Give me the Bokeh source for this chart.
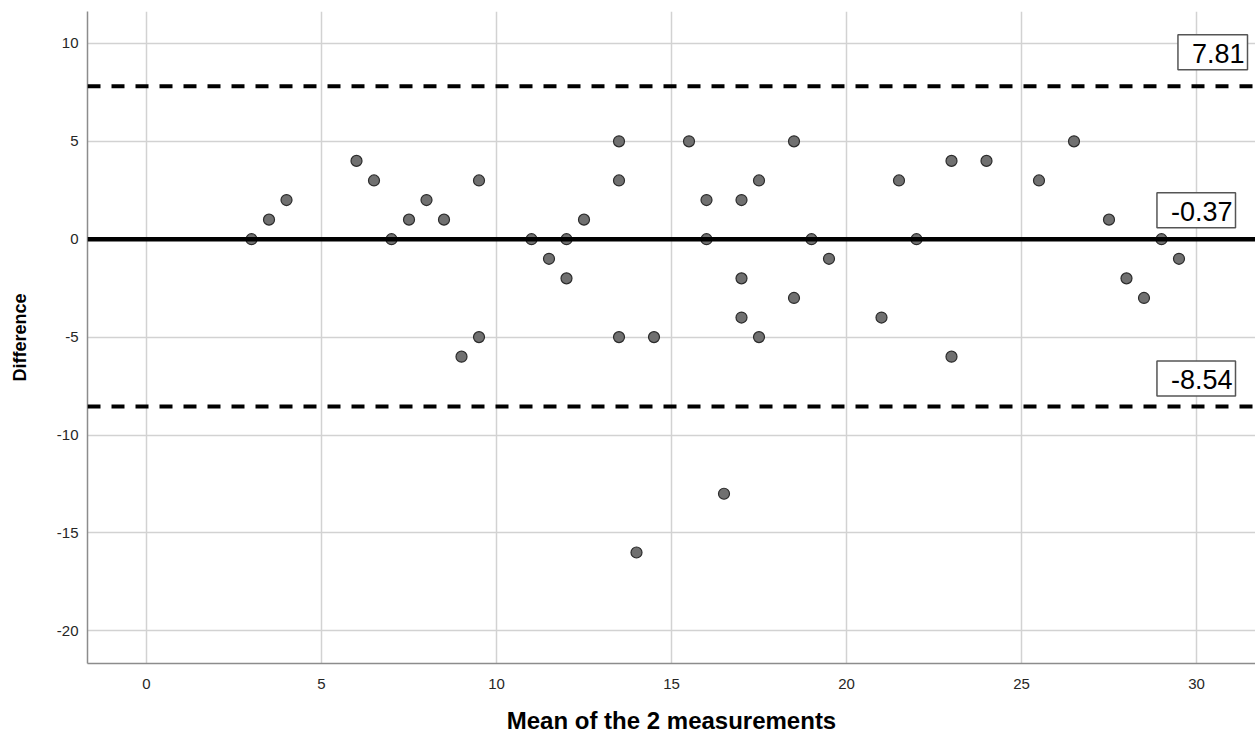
from bokeh.plotting import figure
from bokeh.models import Span, Label, FixedTicker, ColumnDataSource, Range1d
from bokeh.embed import file_html
from bokeh.resources import INLINE

# ---- data ----
mean_x = [3, 3.5, 4, 6, 6.5, 7, 7.5, 8, 8.5, 9, 9.5, 9.5, 11, 11.5, 12, 12,
          12.5, 13.5, 13.5, 13.5, 14, 14.5, 15.5, 16, 16, 16.5, 17, 17, 17,
          17.5, 17.5, 18.5, 18.5, 19, 19.5, 21, 21.5, 22, 23, 23, 24, 25.5,
          26.5, 27.5, 28, 28.5, 29, 29.5]
diff_y = [0, 1, 2, 4, 3, 0, 1, 2, 1, -6, 3, -5, 0, -1, 0, -2,
          1, 5, 3, -5, -16, -5, 5, 2, 0, -13, 2, -2, -4,
          3, -5, 5, -3, 0, -1, -4, 3, 0, 4, -6, 4, 3,
          5, 1, -2, -3, 0, -1]

upper_loa = 7.81
mean_diff = -0.37
lower_loa = -8.54
zero_ref = 0

x_ticks = [0, 5, 10, 15, 20, 25, 30]
y_ticks = [-20, -15, -10, -5, 0, 5, 10]
x_title = "Mean of the 2 measurements"
y_title = "Difference"

FONT = "Liberation Sans"

p = figure(width=1255, height=740, output_backend="svg", toolbar_location=None,
           x_range=Range1d(-1.686, 31.686), y_range=Range1d(-21.67, 11.63),
           min_border_left=87, min_border_right=0, min_border_top=11,
           min_border_bottom=77)
p.outline_line_color = None
p.background_fill_color = "white"
p.border_fill_color = "white"

for ax in (p.xaxis, p.yaxis):
    ax.major_tick_line_color = None
    ax.minor_tick_line_color = None
    ax.major_tick_out = 0
    ax.major_tick_in = 0
    ax.minor_tick_out = 0
    ax.minor_tick_in = 0
    ax.axis_line_color = "#8c8c8c"
    ax.axis_line_width = 1.5
    ax.major_label_text_font = FONT
    ax.major_label_text_font_size = "15px"
    ax.major_label_text_color = "#262626"
    ax.axis_label_text_font = FONT
    ax.axis_label_text_font_style = "bold"
    ax.axis_label_text_color = "#000000"

p.xaxis.ticker = FixedTicker(ticks=x_ticks)
p.yaxis.ticker = FixedTicker(ticks=y_ticks)
p.xaxis.major_label_overrides = {t: str(t) for t in x_ticks}
p.yaxis.major_label_overrides = {t: str(t) for t in y_ticks}
p.xaxis.axis_label = x_title
p.yaxis.axis_label = y_title
p.xaxis.axis_label_text_font_size = "24px"
p.yaxis.axis_label_text_font_size = "18px"
p.xaxis.major_label_standoff = 15
p.yaxis.major_label_standoff = 9
p.xaxis.axis_label_standoff = 15
p.yaxis.axis_label_standoff = 24

p.xgrid.ticker = FixedTicker(ticks=x_ticks)
p.ygrid.ticker = FixedTicker(ticks=y_ticks)
for g in (p.xgrid, p.ygrid):
    g.grid_line_color = "#d2d2d2"
    g.grid_line_width = 1.5

src = ColumnDataSource(dict(x=mean_x, y=diff_y))
p.scatter("x", "y", source=src, size=11, fill_color="#707070",
          line_color="#2b2b2b", line_width=1.2)

p.add_layout(Span(location=zero_ref, dimension="width", line_color="black",
                  line_width=4.5))
for v in (upper_loa, lower_loa):
    p.add_layout(Span(location=v, dimension="width", line_color="black",
                      line_width=4, line_dash="13 11"))

# boxed value labels: (value, line it sits above, frame-relative x of text's right edge, px above line)
label_specs = [
    (upper_loa, upper_loa, 1160, 34),
    (mean_diff, zero_ref, 1148, 29),
    (lower_loa, lower_loa, 1148, 28),
]
for val, anchor_y, sx, off in label_specs:
    p.add_layout(Label(x=sx, y=anchor_y, x_units="screen", y_units="data",
                       y_offset=off, text=f"{val:.2f}", text_align="right",
                       text_baseline="middle", text_font=FONT,
                       text_font_size="27px", text_color="black",
                       border_line_color="#555555", border_line_width=1.5,
                       background_fill_color="white",
                       padding=dict(left=14, right=3, top=9, bottom=7)))

open("out.html", "w").write(file_html(p, INLINE))
